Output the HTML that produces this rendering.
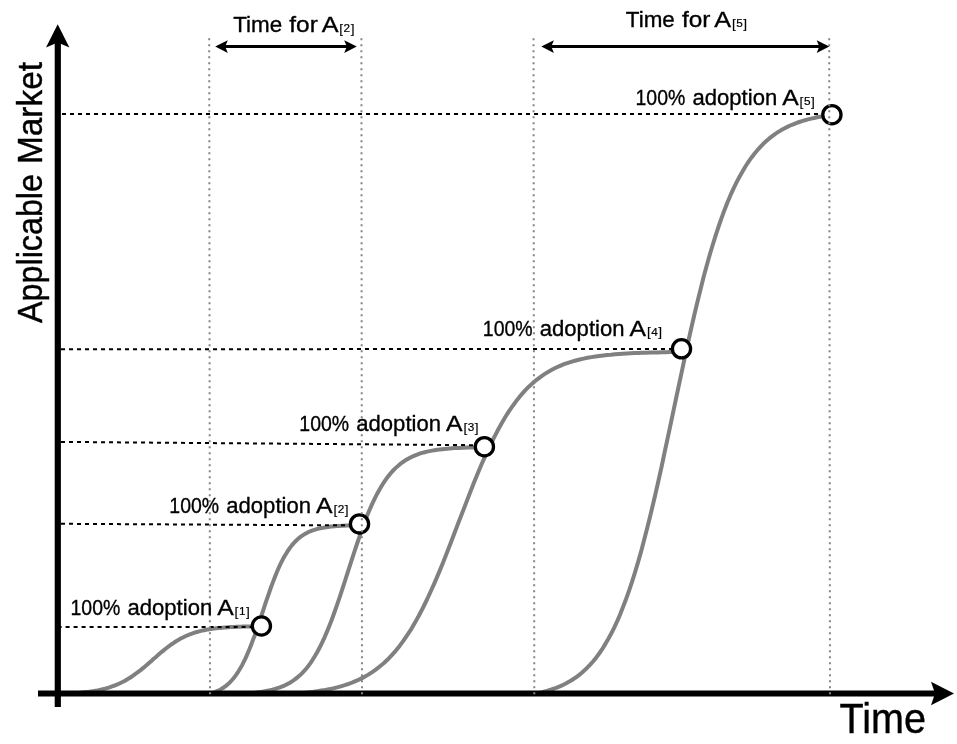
<!DOCTYPE html>
<html><head><meta charset="utf-8"><title>Adoption curves</title>
<style>
html,body{margin:0;padding:0;background:#fff;}
svg{display:block;font-family:"Liberation Sans",sans-serif;fill:#000;}
.c{fill:none;stroke:#808080;stroke-width:4;stroke-linejoin:round;}
.d{fill:none;stroke:#000;stroke-width:2;stroke-dasharray:4 4;}
.v{fill:none;stroke:#858585;stroke-width:2;stroke-dasharray:2 4;}
.o{fill:#fff;stroke:#000;stroke-width:3.3;}
.l{font-size:22.5px;stroke:#000;stroke-width:0.35px;}
.sb{font-size:13.6px;stroke-width:0.15px;}
.sd{font-size:11.8px;stroke-width:0.2px;}
</style></head><body>
<svg width="957" height="744" viewBox="0 0 957 744">
<rect width="957" height="744" fill="#fff"/>

<path class="c" d="M58.0,694.0 L60.0,693.9 L62.1,693.9 L64.1,693.8 L66.1,693.7 L68.2,693.6 L70.2,693.5 L72.2,693.4 L74.2,693.2 L76.3,693.1 L78.3,692.9 L80.3,692.7 L82.4,692.5 L84.4,692.3 L86.4,692.1 L88.5,691.9 L90.5,691.6 L92.5,691.3 L94.5,690.9 L96.6,690.6 L98.6,690.2 L100.6,689.7 L102.7,689.3 L104.7,688.8 L106.7,688.2 L108.8,687.6 L110.8,686.9 L112.8,686.2 L114.8,685.5 L116.9,684.6 L118.9,683.7 L120.9,682.8 L123.0,681.8 L125.0,680.7 L127.0,679.5 L129.1,678.3 L131.1,677.0 L133.1,675.6 L135.1,674.2 L137.2,672.7 L139.2,671.2 L141.2,669.6 L143.3,667.9 L145.3,666.2 L147.3,664.5 L149.3,662.7 L151.4,660.9 L153.4,659.1 L155.4,657.4 L157.5,655.6 L159.5,653.8 L161.5,652.1 L163.6,650.4 L165.6,648.8 L167.6,647.2 L169.7,645.7 L171.7,644.2 L173.7,642.9 L175.7,641.5 L177.8,640.3 L179.8,639.1 L181.8,638.0 L183.9,637.0 L185.9,636.0 L187.9,635.2 L189.9,634.3 L192.0,633.6 L194.0,632.9 L196.0,632.2 L198.1,631.7 L200.1,631.1 L202.1,630.6 L204.2,630.2 L206.2,629.8 L208.2,629.4 L210.2,629.1 L212.3,628.8 L214.3,628.5 L216.3,628.3 L218.4,628.1 L220.4,627.9 L222.4,627.7 L224.5,627.5 L226.5,627.4 L228.5,627.2 L230.6,627.1 L232.6,627.0 L234.6,626.9 L236.6,626.8 L238.7,626.8 L240.7,626.7 L242.7,626.6 L244.8,626.6 L246.8,626.5 L248.8,626.5 L250.8,626.4 L252.9,626.4 L254.9,626.4 L256.9,626.3 L259.0,626.3 L261.0,626.3"/>
<path class="c" d="M209.0,694.0 L210.5,693.6 L212.0,693.1 L213.5,692.6 L215.0,692.1 L216.5,691.4 L218.0,690.7 L219.5,690.0 L221.0,689.2 L222.5,688.2 L224.1,687.2 L225.6,686.1 L227.1,684.9 L228.6,683.6 L230.1,682.1 L231.6,680.5 L233.1,678.8 L234.6,676.9 L236.1,674.9 L237.6,672.7 L239.1,670.3 L240.6,667.8 L242.1,665.1 L243.6,662.2 L245.1,659.1 L246.6,655.8 L248.1,652.3 L249.6,648.7 L251.1,644.9 L252.6,640.9 L254.2,636.8 L255.7,632.6 L257.2,628.3 L258.7,623.8 L260.2,619.4 L261.7,614.8 L263.2,610.3 L264.7,605.7 L266.2,601.2 L267.7,596.8 L269.2,592.5 L270.7,588.2 L272.2,584.1 L273.7,580.1 L275.2,576.2 L276.7,572.5 L278.2,569.0 L279.7,565.7 L281.2,562.5 L282.7,559.6 L284.2,556.8 L285.8,554.2 L287.3,551.7 L288.8,549.5 L290.3,547.4 L291.8,545.4 L293.3,543.6 L294.8,542.0 L296.3,540.5 L297.8,539.1 L299.3,537.8 L300.8,536.6 L302.3,535.6 L303.8,534.6 L305.3,533.7 L306.8,532.9 L308.3,532.1 L309.8,531.5 L311.3,530.9 L312.8,530.3 L314.4,529.8 L315.9,529.4 L317.4,528.9 L318.9,528.6 L320.4,528.2 L321.9,527.9 L323.4,527.7 L324.9,527.4 L326.4,527.2 L327.9,527.0 L329.4,526.8 L330.9,526.6 L332.4,526.5 L333.9,526.3 L335.4,526.2 L336.9,526.1 L338.4,526.0 L339.9,525.9 L341.4,525.8 L342.9,525.8 L344.4,525.7 L346.0,525.6 L347.5,525.6 L349.0,525.5 L350.5,525.5 L352.0,525.4 L353.5,525.4 L355.0,525.4 L356.5,525.4 L358.0,525.3 L359.5,525.3"/>
<path class="c" d="M235.0,694.0 L237.5,693.9 L240.0,693.8 L242.5,693.6 L245.0,693.5 L247.5,693.3 L250.0,693.1 L252.5,692.9 L255.0,692.7 L257.5,692.4 L259.9,692.1 L262.4,691.7 L264.9,691.3 L267.4,690.8 L269.9,690.3 L272.4,689.7 L274.9,689.0 L277.4,688.2 L279.9,687.4 L282.4,686.4 L284.9,685.3 L287.4,684.1 L289.9,682.7 L292.4,681.1 L294.9,679.4 L297.4,677.4 L299.9,675.3 L302.4,672.8 L304.9,670.2 L307.4,667.2 L309.9,663.9 L312.3,660.3 L314.8,656.3 L317.3,652.0 L319.8,647.3 L322.3,642.2 L324.8,636.8 L327.3,630.9 L329.8,624.7 L332.3,618.2 L334.8,611.3 L337.3,604.2 L339.8,596.8 L342.3,589.2 L344.8,581.5 L347.3,573.7 L349.8,565.9 L352.3,558.2 L354.8,550.5 L357.3,543.0 L359.8,535.8 L362.2,528.7 L364.7,522.0 L367.2,515.6 L369.7,509.6 L372.2,503.9 L374.7,498.6 L377.2,493.7 L379.7,489.2 L382.2,485.0 L384.7,481.1 L387.2,477.6 L389.7,474.4 L392.2,471.5 L394.7,468.9 L397.2,466.6 L399.7,464.4 L402.2,462.5 L404.7,460.8 L407.2,459.3 L409.6,457.9 L412.1,456.7 L414.6,455.6 L417.1,454.6 L419.6,453.7 L422.1,452.9 L424.6,452.3 L427.1,451.6 L429.6,451.1 L432.1,450.6 L434.6,450.2 L437.1,449.8 L439.6,449.5 L442.1,449.2 L444.6,448.9 L447.1,448.7 L449.6,448.5 L452.1,448.3 L454.6,448.1 L457.1,448.0 L459.6,447.9 L462.0,447.8 L464.5,447.7 L467.0,447.6 L469.5,447.5 L472.0,447.4 L474.5,447.4 L477.0,447.3 L479.5,447.3 L482.0,447.2 L484.5,447.2"/>
<path class="c" d="M290.0,694.0 L293.9,693.7 L297.8,693.4 L301.7,693.1 L305.7,692.7 L309.6,692.3 L313.5,691.8 L317.4,691.2 L321.3,690.6 L325.2,690.0 L329.1,689.2 L333.1,688.4 L337.0,687.4 L340.9,686.3 L344.8,685.2 L348.7,683.8 L352.6,682.4 L356.6,680.7 L360.5,678.9 L364.4,676.9 L368.3,674.6 L372.2,672.1 L376.1,669.4 L380.0,666.3 L384.0,663.0 L387.9,659.3 L391.8,655.2 L395.7,650.8 L399.6,645.9 L403.5,640.6 L407.4,634.9 L411.4,628.8 L415.3,622.1 L419.2,615.0 L423.1,607.5 L427.0,599.5 L430.9,591.0 L434.9,582.1 L438.8,572.9 L442.7,563.4 L446.6,553.5 L450.5,543.5 L454.4,533.3 L458.3,523.0 L462.3,512.8 L466.2,502.6 L470.1,492.5 L474.0,482.6 L477.9,473.0 L481.8,463.8 L485.8,454.9 L489.7,446.4 L493.6,438.4 L497.5,430.8 L501.4,423.7 L505.3,417.0 L509.2,410.9 L513.2,405.2 L517.1,399.9 L521.0,395.1 L524.9,390.7 L528.8,386.7 L532.7,383.1 L536.6,379.8 L540.6,376.8 L544.5,374.1 L548.4,371.7 L552.3,369.5 L556.2,367.5 L560.1,365.8 L564.0,364.2 L568.0,362.8 L571.9,361.6 L575.8,360.5 L579.7,359.5 L583.6,358.6 L587.5,357.8 L591.5,357.1 L595.4,356.5 L599.3,356.0 L603.2,355.5 L607.1,355.0 L611.0,354.7 L614.9,354.3 L618.9,354.0 L622.8,353.7 L626.7,353.5 L630.6,353.3 L634.5,353.1 L638.4,352.9 L642.4,352.8 L646.3,352.7 L650.2,352.6 L654.1,352.5 L658.0,352.4 L661.9,352.3 L665.8,352.2 L669.8,352.1 L673.7,352.1 L677.6,352.0 L681.5,352.0"/>
<path class="c" d="M533.5,694.0 L536.5,693.4 L539.5,692.8 L542.5,692.1 L545.4,691.3 L548.4,690.4 L551.4,689.5 L554.4,688.5 L557.4,687.3 L560.4,686.1 L563.4,684.7 L566.3,683.2 L569.3,681.6 L572.3,679.7 L575.3,677.8 L578.3,675.6 L581.3,673.2 L584.2,670.6 L587.2,667.7 L590.2,664.6 L593.2,661.2 L596.2,657.6 L599.2,653.5 L602.2,649.2 L605.1,644.4 L608.1,639.3 L611.1,633.8 L614.1,627.8 L617.1,621.4 L620.1,614.5 L623.0,607.1 L626.0,599.2 L629.0,590.8 L632.0,581.9 L635.0,572.4 L638.0,562.4 L641.0,551.9 L643.9,540.8 L646.9,529.3 L649.9,517.3 L652.9,504.8 L655.9,492.0 L658.9,478.7 L661.9,465.2 L664.8,451.4 L667.8,437.5 L670.8,423.4 L673.8,409.2 L676.8,395.0 L679.8,380.9 L682.8,366.9 L685.7,353.1 L688.7,339.5 L691.7,326.2 L694.7,313.3 L697.7,300.8 L700.7,288.7 L703.6,277.1 L706.6,266.0 L709.6,255.3 L712.6,245.2 L715.6,235.6 L718.6,226.5 L721.6,217.9 L724.5,209.9 L727.5,202.3 L730.5,195.2 L733.5,188.6 L736.5,182.4 L739.5,176.7 L742.5,171.4 L745.4,166.5 L748.4,161.9 L751.4,157.7 L754.4,153.8 L757.4,150.2 L760.4,146.9 L763.3,143.8 L766.3,141.0 L769.3,138.4 L772.3,136.1 L775.3,133.9 L778.3,131.9 L781.3,130.1 L784.2,128.5 L787.2,126.9 L790.2,125.5 L793.2,124.3 L796.2,123.1 L799.2,122.0 L802.1,121.1 L805.1,120.2 L808.1,119.4 L811.1,118.6 L814.1,118.0 L817.1,117.3 L820.1,116.8 L823.0,116.3 L826.0,115.8 L829.0,115.4 L832.0,115.0"/>
<line class="d" x1="57.6" y1="626.9" x2="252" y2="626.9"/>
<line class="d" x1="61" y1="523.8" x2="350.5" y2="525.4"/>
<line class="d" x1="61" y1="441.9" x2="475.5" y2="445.2"/>
<line class="d" x1="61" y1="349.3" x2="672.5" y2="348.9"/>
<line class="d" x1="62" y1="114.05" x2="823" y2="113.95"/>
<line x1="57.8" y1="40" x2="57.8" y2="707" stroke="#000" stroke-width="6.2"/>
<line x1="38" y1="693.5" x2="938" y2="693.5" stroke="#000" stroke-width="6"/>
<polygon points="57.7,24.2 69.4,47.6 57.7,42.6 46,47.6"/>
<polygon points="954,693.4 931,705.2 935,693.4 931,681.7"/>
<circle class="o" cx="261.4" cy="626.0" r="9.1"/>
<circle class="o" cx="359.5" cy="523.9" r="9.1"/>
<circle class="o" cx="484.4" cy="446.7" r="9.1"/>
<circle class="o" cx="681.5" cy="348.8" r="9.1"/>
<circle class="o" cx="831.9" cy="114.7" r="9.1"/>
<line class="v" x1="209.2" y1="38.2" x2="210.0" y2="694.2"/>
<line class="v" x1="361.4" y1="38.2" x2="362.0" y2="694.2"/>
<line class="v" x1="533.5" y1="38.2" x2="534.3" y2="694.2"/>
<line class="v" x1="829.2" y1="38.2" x2="830.0" y2="694.2"/>
<line x1="223.2" y1="46.6" x2="348.8" y2="46.6" stroke="#000" stroke-width="3"/><polygon points="215.2,46.6 227.79999999999998,40.300000000000004 225.2,46.6 227.79999999999998,52.9"/><polygon points="356.8,46.6 344.2,40.300000000000004 346.8,46.6 344.2,52.9"/>
<line x1="549.3" y1="46.6" x2="821.3" y2="46.6" stroke="#000" stroke-width="3"/><polygon points="541.3,46.6 553.9,40.300000000000004 551.3,46.6 553.9,52.9"/><polygon points="829.3,46.6 816.6999999999999,40.300000000000004 819.3,46.6 816.6999999999999,52.9"/>
<text class="l" y="615.1"><tspan x="70.5" textLength="49.8" lengthAdjust="spacingAndGlyphs">100%</tspan> <tspan x="127.5" textLength="84.7" lengthAdjust="spacingAndGlyphs">adoption</tspan> <tspan x="217.3" textLength="16.5" lengthAdjust="spacingAndGlyphs">A</tspan><tspan class="sb" dx="0.8" dy="0.7">[</tspan><tspan class="sd" dx="0.5" dy="-0.7">1</tspan><tspan class="sb" dx="0.5" dy="0.7">]</tspan></text>
<text class="l" y="513.1"><tspan x="169.3" textLength="49.8" lengthAdjust="spacingAndGlyphs">100%</tspan> <tspan x="226.3" textLength="84.7" lengthAdjust="spacingAndGlyphs">adoption</tspan> <tspan x="316.1" textLength="16.5" lengthAdjust="spacingAndGlyphs">A</tspan><tspan class="sb" dx="0.8" dy="0.7">[</tspan><tspan class="sd" dx="0.5" dy="-0.7">2</tspan><tspan class="sb" dx="0.5" dy="0.7">]</tspan></text>
<text class="l" y="431.3"><tspan x="299.3" textLength="49.8" lengthAdjust="spacingAndGlyphs">100%</tspan> <tspan x="356.3" textLength="84.7" lengthAdjust="spacingAndGlyphs">adoption</tspan> <tspan x="446.1" textLength="16.5" lengthAdjust="spacingAndGlyphs">A</tspan><tspan class="sb" dx="0.8" dy="0.7">[</tspan><tspan class="sd" dx="0.5" dy="-0.7">3</tspan><tspan class="sb" dx="0.5" dy="0.7">]</tspan></text>
<text class="l" y="335.6"><tspan x="482.8" textLength="49.8" lengthAdjust="spacingAndGlyphs">100%</tspan> <tspan x="539.8" textLength="84.7" lengthAdjust="spacingAndGlyphs">adoption</tspan> <tspan x="629.6" textLength="16.5" lengthAdjust="spacingAndGlyphs">A</tspan><tspan class="sb" dx="0.8" dy="0.7">[</tspan><tspan class="sd" dx="0.5" dy="-0.7">4</tspan><tspan class="sb" dx="0.5" dy="0.7">]</tspan></text>
<text class="l" y="104.9"><tspan x="635.5" textLength="49.8" lengthAdjust="spacingAndGlyphs">100%</tspan> <tspan x="692.5" textLength="84.7" lengthAdjust="spacingAndGlyphs">adoption</tspan> <tspan x="782.3" textLength="16.5" lengthAdjust="spacingAndGlyphs">A</tspan><tspan class="sb" dx="0.8" dy="0.7">[</tspan><tspan class="sd" dx="0.5" dy="-0.7">5</tspan><tspan class="sb" dx="0.5" dy="0.7">]</tspan></text>
<text class="l" y="32.4"><tspan x="233.2" textLength="49" lengthAdjust="spacingAndGlyphs">Time</tspan> <tspan x="289.3" textLength="28.5" lengthAdjust="spacingAndGlyphs">for</tspan> <tspan x="321.7" textLength="16.8" lengthAdjust="spacingAndGlyphs">A</tspan><tspan class="sb" dx="0.8" dy="0.7">[</tspan><tspan class="sd" dx="0.5" dy="-0.7">2</tspan><tspan class="sb" dx="0.5" dy="0.7">]</tspan></text>
<text class="l" y="27.1"><tspan x="625.8" textLength="49" lengthAdjust="spacingAndGlyphs">Time</tspan> <tspan x="681.9" textLength="28.5" lengthAdjust="spacingAndGlyphs">for</tspan> <tspan x="714.3" textLength="16.8" lengthAdjust="spacingAndGlyphs">A</tspan><tspan class="sb" dx="0.8" dy="0.7">[</tspan><tspan class="sd" dx="0.5" dy="-0.7">5</tspan><tspan class="sb" dx="0.5" dy="0.7">]</tspan></text>
<text x="839.5" y="732.6" font-size="42" stroke="#000" stroke-width="0.4" textLength="86.5" lengthAdjust="spacingAndGlyphs">Time</text>
<text transform="translate(41.5,323) rotate(-90)" font-size="34.6" stroke="#000" stroke-width="0.4"><tspan x="0" textLength="149" lengthAdjust="spacingAndGlyphs">Applicable</tspan> <tspan x="159" textLength="102" lengthAdjust="spacingAndGlyphs">Market</tspan></text>
</svg></body></html>
